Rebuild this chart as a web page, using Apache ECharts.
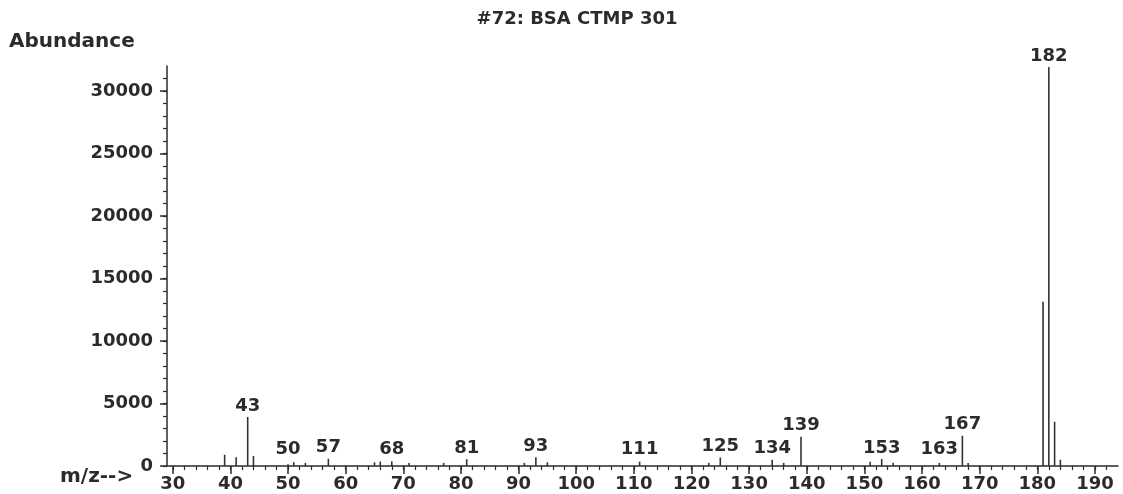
<!DOCTYPE html>
<html>
<head>
    <meta charset="utf-8">
    <title>#72: BSA CTMP 301</title>
    <script src="https://cdn.jsdelivr.net/npm/echarts@6/dist/echarts.min.js"></script>
</head>
<body style="margin:0;background:#fff;">
<div id="main" style="width:1123px;height:494px;"></div>
<script type="text/javascript">
    // peaks (m/z, abundance)
    var mz = [39, 41, 43, 44, 50, 51, 53, 57, 65, 66, 68, 71, 77, 81, 91, 93, 95, 111, 123, 125, 134, 136, 139, 151, 153, 155, 163, 167, 168, 181, 182, 183, 184];
    var abundance = [900, 700, 3920, 800, 150, 300, 250, 580, 300, 350, 380, 250, 250, 550, 250, 700, 300, 350, 250, 680, 500, 250, 2340, 350, 560, 250, 250, 2420, 250, 13140, 31920, 3540, 500];

    // peaks that carry a number above them
    var labelledMz = [43, 50, 57, 68, 81, 93, 111, 125, 134, 139, 153, 163, 167, 182];

    var xLabels = [30, 40, 50, 60, 70, 80, 90, 100, 110, 120, 130, 140, 150, 160, 170, 180, 190];
    var yLabels = [0, 5000, 10000, 15000, 20000, 25000, 30000];
    var xMinorTicks = [];
    for (var t = 30; t <= 192; t += 2) xMinorTicks.push(t);
    var yMinorTicks = [];
    for (var u = 0; u <= 31000; u += 1000) yMinorTicks.push(u);

    var font = 'DejaVu Sans';
    var ink = '#2b2b2b';

    var sticks = mz.map(function (m, i) { return [m, abundance[i]]; });
    var labelPts = labelledMz.map(function (m) {
        var v = abundance[mz.indexOf(m)];
        return [m, Math.max(v, 450)];
    });

    var chartDom = document.getElementById('main');
    var myChart = echarts.init(chartDom);
    var option = {
        animation: false,
        backgroundColor: '#fff',
        title: {
            text: '#72: BSA CTMP 301',
            left: 572,
            top: 5,
            textAlign: 'center',
            textStyle: { fontFamily: font, fontSize: 18, fontWeight: 'bold', color: ink }
        },
        graphic: [
            {
                type: 'text', left: 9, top: 32,
                style: { text: 'Abundance', font: 'bold 20px "DejaVu Sans"', fill: ink }
            },
            {
                type: 'text', left: 60, top: 467,
                style: { text: 'm/z-->', font: 'bold 20px "DejaVu Sans"', fill: ink }
            }
        ],
        grid: { left: 167, right: 5, top: 66, bottom: 28 },
        xAxis: [
            {
                type: 'value', min: 29, max: 194, position: 'bottom',
                axisLine: { show: true, onZero: false, lineStyle: { color: ink, width: 1.5 } },
                axisTick: { show: true, length: 8, customValues: xLabels, lineStyle: { color: ink, width: 1.5 } },
                axisLabel: {
                    customValues: xLabels, margin: 9,
                    formatter: function (v) { return String(v); },
                    fontFamily: font, fontSize: 18, fontWeight: 'bold', color: ink
                },
                splitLine: { show: false }
            },
            {
                type: 'value', min: 29, max: 194, position: 'bottom',
                axisLine: { show: false, onZero: false },
                axisTick: { show: true, length: 4, customValues: xMinorTicks, lineStyle: { color: ink, width: 1.2 } },
                axisLabel: { show: false },
                splitLine: { show: false }
            }
        ],
        yAxis: [
            {
                type: 'value', min: 0, max: 32000, position: 'left',
                axisLine: { show: true, onZero: false, lineStyle: { color: ink, width: 1.5 } },
                axisTick: { show: true, length: 7, customValues: yLabels, lineStyle: { color: ink, width: 1.5 } },
                axisLabel: {
                    customValues: yLabels, margin: 14,
                    formatter: function (v) { return String(v); },
                    fontFamily: font, fontSize: 18, fontWeight: 'bold', color: ink
                },
                splitLine: { show: false }
            },
            {
                type: 'value', min: 0, max: 32000, position: 'left',
                axisLine: { show: false, onZero: false },
                axisTick: { show: true, length: 4, customValues: yMinorTicks, lineStyle: { color: ink, width: 1.2 } },
                axisLabel: { show: false },
                splitLine: { show: false }
            }
        ],
        series: [
            {
                type: 'bar',
                xAxisIndex: 0,
                yAxisIndex: 0,
                data: sticks,
                barWidth: 1.6,
                itemStyle: { color: '#333' }
            },
            {
                type: 'scatter',
                xAxisIndex: 0,
                yAxisIndex: 0,
                data: labelPts,
                symbolSize: 0,
                label: {
                    show: true,
                    position: 'top',
                    distance: 2,
                    formatter: function (p) { return String(p.value[0]); },
                    fontFamily: font, fontSize: 18, fontWeight: 'bold', color: ink,
                    textBorderWidth: 0, opacity: 1
                }
            }
        ]
    };

    if (option && typeof option === 'object') {
        myChart.setOption(option);
    }
</script>
</body>
</html>
